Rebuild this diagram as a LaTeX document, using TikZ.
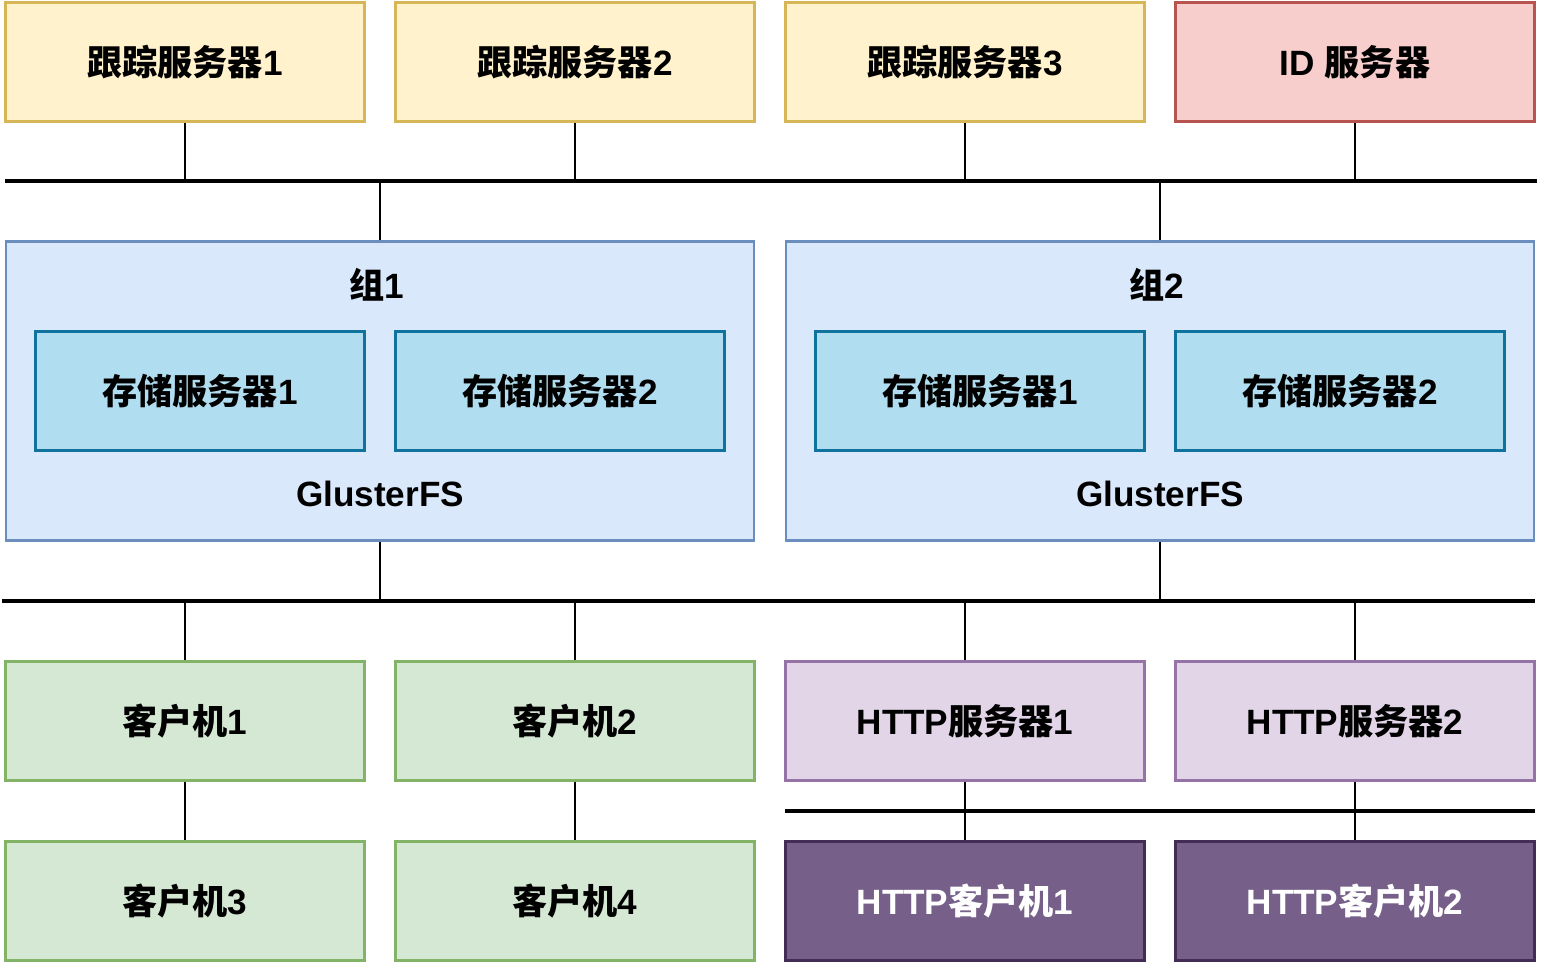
\documentclass[tikz,border=0pt]{standalone}
\usepackage{fontspec}
\setmainfont{Liberation Sans}
\newfontfamily\cjk{Noto Sans CJK SC}
\newcommand{\zh}[1]{{\cjk #1}}
\usepackage{xcolor}
\definecolor{trkf}{HTML}{FFF2CC}
\definecolor{trkd}{HTML}{D6B656}
\definecolor{idf}{HTML}{F8CECC}
\definecolor{idd}{HTML}{B85450}
\definecolor{grpf}{HTML}{DAE8FC}
\definecolor{grpd}{HTML}{6C8EBF}
\definecolor{stof}{HTML}{B1DDF0}
\definecolor{stod}{HTML}{10739E}
\definecolor{clif}{HTML}{D5E8D4}
\definecolor{clid}{HTML}{82B366}
\definecolor{hsf}{HTML}{E1D5E7}
\definecolor{hsd}{HTML}{9673A6}
\definecolor{hcf}{HTML}{76608A}
\definecolor{hcd}{HTML}{432D57}
\tikzset{
  box/.style={draw, line width=1.2pt, minimum width=7.18cm, minimum height=2.38cm,
    font=\bfseries\fontsize{20}{24}\selectfont, inner sep=0pt},
  trk/.style={box, draw=trkd, fill=trkf},
  idsrv/.style={box, draw=idd, fill=idf},
  grp/.style={draw=grpd, fill=grpf, line width=1.2pt, minimum width=14.98cm, minimum height=5.98cm},
  stor/.style={box, draw=stod, fill=stof, minimum width=6.58cm},
  cli/.style={box, draw=clid, fill=clif},
  hsrv/.style={box, draw=hsd, fill=hsf},
  hcli/.style={box, draw=hcd, fill=hcf, text=white},
  lbl/.style={font=\bfseries\fontsize{20}{24}\selectfont, inner sep=0pt},
  bus/.style={line width=1.8pt},
  link/.style={line width=1.4pt}
}
\begin{document}
\begin{tikzpicture}[x=0.02cm, y=-0.02cm]
  \useasboundingbox (0,0) rectangle (1542,966);
  % top row
  \node[trk] (t1) at (185,62) {\zh{跟踪服务器}1};
  \node[trk] (t2) at (575,62) {\zh{跟踪服务器}2};
  \node[trk] (t3) at (965,62) {\zh{跟踪服务器}3};
  \node[idsrv] (id) at (1355,62) {ID \zh{服务器}};
  % bus 1
  \coordinate (b1l) at (5,181);
  \coordinate (b1r) at (1537,181);
  \draw[bus] (b1l) -- (b1r);
  % groups
  \node[grp] (g1) at (380,391) {};
  \node[grp] (g2) at (1160,391) {};
  \node[lbl] (g1t) at (377,285) {\zh{组}1};
  \node[lbl] (g2t) at (1157,285) {\zh{组}2};
  \node[stor] (s11) at (200,391) {\zh{存储服务器}1};
  \node[stor] (s12) at (560,391) {\zh{存储服务器}2};
  \node[stor] (s21) at (980,391) {\zh{存储服务器}1};
  \node[stor] (s22) at (1340,391) {\zh{存储服务器}2};
  \node[lbl] (g1f) at (380,494) {GlusterFS};
  \node[lbl] (g2f) at (1160,494) {GlusterFS};
  % bus 2
  \coordinate (b2l) at (2,601);
  \coordinate (b2r) at (1535,601);
  \draw[bus] (b2l) -- (b2r);
  % clients and http
  \node[cli] (c1) at (185,721) {\zh{客户机}1};
  \node[cli] (c2) at (575,721) {\zh{客户机}2};
  \node[hsrv] (h1) at (965,721) {HTTP\zh{服务器}1};
  \node[hsrv] (h2) at (1355,721) {HTTP\zh{服务器}2};
  \node[cli] (c3) at (185,901) {\zh{客户机}3};
  \node[cli] (c4) at (575,901) {\zh{客户机}4};
  \node[hcli] (hc1) at (965,901) {HTTP\zh{客户机}1};
  \node[hcli] (hc2) at (1355,901) {HTTP\zh{客户机}2};
  % bus 3
  \coordinate (b3l) at (785,811);
  \coordinate (b3r) at (1535,811);
  \draw[bus] (b3l) -- (b3r);
  % links
  \foreach \n in {t1,t2,t3,id}
    \draw[link] (\n.south) -- (\n.south |- b1l);
  \foreach \n in {g1,g2}
    \draw[link] (\n.north) -- (\n.north |- b1l);
  \foreach \n in {g1,g2}
    \draw[link] (\n.south) -- (\n.south |- b2l);
  \foreach \n in {c1,c2,h1,h2}
    \draw[link] (\n.north) -- (\n.north |- b2l);
  \draw[link] (c1) -- (c3);
  \draw[link] (c2) -- (c4);
  \draw[link] (h1) -- (hc1);
  \draw[link] (h2) -- (hc2);
\end{tikzpicture}
\end{document}
